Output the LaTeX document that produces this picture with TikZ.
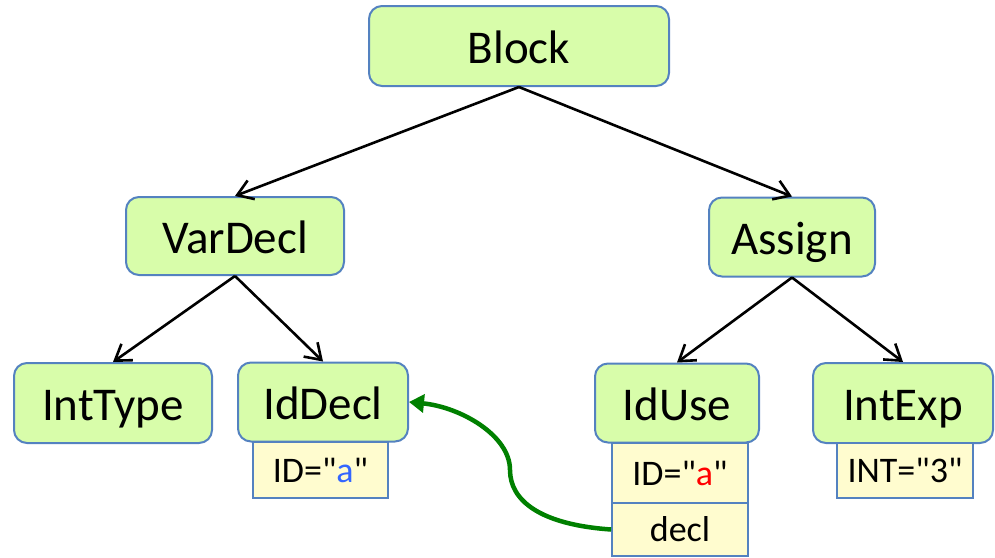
\documentclass[tikz,border=0pt]{standalone}
\usepackage{fontspec}
\setmainfont{Carlito}
\usetikzlibrary{arrows.meta}
\definecolor{nodefill}{RGB}{216,253,170}
\definecolor{nodeline}{RGB}{84,130,192}
\definecolor{attrfill}{RGB}{255,252,207}
\definecolor{linkgreen}{RGB}{0,128,0}
\definecolor{idblue}{RGB}{51,102,255}
\definecolor{idred}{RGB}{255,0,0}
\newcommand{\dq}{\textquotedbl}
\tikzset{
  astnode/.style={draw=nodeline, fill=nodefill, line width=2pt, rounded corners=13pt,
    inner sep=0pt, text height=34pt, text depth=0pt,
    font=\fontsize{47}{47}\selectfont},
  attrbox/.style={draw=nodeline, fill=attrfill, line width=1.8pt, inner sep=0pt,
    text height=24pt, text depth=0pt,
    font=\fontsize{36}{36}\selectfont},
  child/.style={line width=2.6pt, -{Straight Barb[length=15pt,width=20pt,line width=2.6pt]}},
  link/.style={draw=linkgreen, line width=4.5pt, -{Triangle[length=15pt,width=18pt]}}
}
\begin{document}
\begin{tikzpicture}[x=1pt,y=-1pt]
\useasboundingbox (0,0) rectangle (995,557);

% tree nodes
\node[astnode, minimum width=300pt, minimum height=80pt] (block)   at (519,46)  {Block};
\node[astnode, minimum width=218pt, minimum height=78pt] (vardecl) at (235,236) {VarDecl};
\node[astnode, minimum width=166pt, minimum height=79pt] (assign)  at (792,237) {Assign};
\node[astnode, minimum width=198pt, minimum height=80pt] (inttype) at (113,403) {IntType};
\node[astnode, minimum width=170pt, minimum height=79pt] (iddecl)  at (323,402) {IdDecl};
\node[astnode, minimum width=164pt, minimum height=79pt] (iduse)   at (677,403) {IdUse};
\node[astnode, minimum width=180pt, minimum height=80pt] (intexp)  at (903,403) {IntExp};

% attribute boxes
\node[attrbox, minimum width=135pt, minimum height=56pt] (declid) at (320.5,470) {ID=\dq\textcolor{idblue}{a}\dq};
\node[attrbox, minimum width=136pt, minimum height=60pt] (useid)  at (680,473)  {ID=\dq\textcolor{idred}{a}\dq};
\node[attrbox, minimum width=136pt, minimum height=53pt] (decl)   at (680,529.5) {decl};
\node[attrbox, minimum width=136pt, minimum height=55pt] (intval) at (905,470.5) {INT=\dq 3\dq};

% child edges
\draw[child] (block.south)   -- (vardecl.north);
\draw[child] (block.south)   -- (assign.north);
\draw[child] (vardecl.south) -- (inttype.north);
\draw[child] (vardecl.south) -- (iddecl.north);
\draw[child] (assign.south)  -- (iduse.north);
\draw[child] (assign.south)  -- (intexp.north);

% declaration link
\coordinate (bend) at (510,470);
\draw[link] (decl.west) .. controls +(-72,-5) and +(0,30) .. (bend)
            .. controls +(0,-35) and +(51,5) .. (iddecl.east);
\end{tikzpicture}
\end{document}
